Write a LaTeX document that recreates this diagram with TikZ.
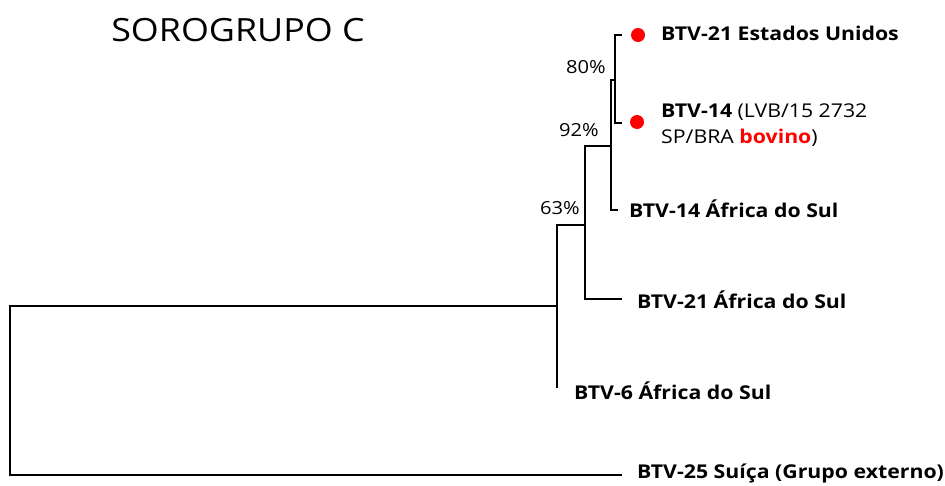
\documentclass[tikz,border=0pt]{standalone}
\usepackage{fontspec}
\setmainfont[FakeStretch=1.12]{Open Sans}
\usetikzlibrary{positioning}
\definecolor{dotred}{RGB}{255,0,0}

\begin{document}
\begin{tikzpicture}[x=1pt,y=-1pt,
  branch/.style={line width=2.4pt},
  leaf/.style={anchor=west,inner sep=0pt,font=\bfseries\fontsize{19}{26}\selectfont},
  boot/.style={inner sep=0pt,font=\fontsize{18}{20}\selectfont},
  hit/.style={circle,fill=dotred,minimum size=14pt,inner sep=0pt}]
\useasboundingbox (0,0) rectangle (945,485);
% internal nodes
\coordinate (root) at (10,390);
\coordinate (n63) at (557,306);
\coordinate (n92) at (585,225);
\coordinate (n80a) at (611,146);
\coordinate (n80b) at (615,80);
% tips
\coordinate (tUS) at (622,35);
\coordinate (tBR) at (622,123);
\coordinate (tSA14) at (618,210);
\coordinate (tSA21) at (622,299);
\coordinate (tSA6) at (557,388);
\coordinate (tOut) at (622,475);
% branches
\draw[branch] (tOut) -| (root) |- (n63);
\draw[branch] (tSA6) |- (n92);
\draw[branch] (tSA21) -| (n92) |- (n80a);
\draw[branch] (tSA14) -| (n80a) |- (n80b);
\draw[branch] (tBR) -| (n80b) |- (tUS);
% markers
\node[hit] (dUS) at (638,35) {};
\node[hit] (dBR) at (637,122) {};
% tip labels
\node[leaf] (lUS) at (661,33) {BTV-21 Estados Unidos};
\node[leaf,anchor=north west,align=left] (lBR) at (661,104)
  {BTV-14 \mdseries(LVB/15 2732\\\mdseries SP/BRA \textcolor{dotred}{\bfseries bovino})};
\node[leaf] (lSA14) at (629,209) {BTV-14 África do Sul};
\node[leaf] (lSA21) at (637,300) {BTV-21 África do Sul};
\node[leaf] (lSA6) at (574,391) {BTV-6 África do Sul};
\node[leaf] (lOut) at (637,473) {BTV-25 Suíça (Grupo externo)};
% bootstrap values
\node[boot] (b80) at (586,67) {80\%};
\node[boot] (b92) at (579,130) {92\%};
\node[boot] (b63) at (560,208) {63\%};
% title
\node[inner sep=0pt,font=\fontsize{32}{40}\selectfont] (title) at (238,30) {SOROGRUPO C};
\end{tikzpicture}
\end{document}
